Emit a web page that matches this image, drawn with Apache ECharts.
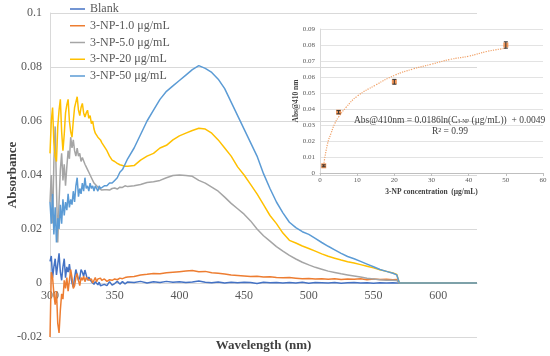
<!DOCTYPE html>
<html>
<head>
<meta charset="utf-8">
<script src="https://cdn.jsdelivr.net/npm/echarts@6/dist/echarts.min.js"></script>
<style>html,body{margin:0;padding:0;background:#fff}#c{width:550px;height:356px}</style>
</head>
<body>
<div id="c"></div>
<script>
// ---------------- data ----------------
const wavelengths = [
  300,301,302,303,304,305,306,307,308,309,310,311,312,313,314,315,316,317,318,319,
  320,321,322,323,324,325,326,327,328,329,330,331,332,333,334,335,336,337,338,339,340,
  342,344,346,348,350,352,354,356,358,360,
  365,370,375,380,385,390,395,400,405,410,415,420,425,430,435,440,445,450,455,460,
  465,470,475,480,485,490,495,500,505,510,515,520,525,530,535,540,545,550,555,560,565,
  568,570,600,630
];
const seriesNames = ['Blank','3-NP-1.0 μg/mL','3-NP-5.0 μg/mL','3-NP-20 μg/mL','3-NP-50 μg/mL'];
const blank = [
  0.008,0.010,0.002,0.006,0.009,0.003,0.007,0.011,0.004,0.001,
  0.006,0.009,0.002,0.006,0.004,0.007,0.003,0.0,-0.0015,0.002,
  0.005,0.003,0.001,0.002,0.005,0.004,0.0025,0.0048,0.003,0.001,
  0.0022,0.002,0.0005,0.001,-0.0005,0.0005,0.0,-0.0007,0.0003,-0.001,-0.0015,
  -0.0005,-0.001,0.0005,-0.0008,-0.0002,0.0006,-0.0004,0.0005,-0.0003,0.0004,
  0.0002,0.0006,0.0,0.0005,0.0002,0.0006,0.0003,0.0005,0.0002,0.0004,
  0.0007,0.0003,0.0001,0.0004,0.0,0.0003,0.0001,0.0003,0.0002,-0.0002,
  0.0003,0.0001,0.0002,0.0,0.0002,0.0,0.0003,-0.0001,0.0002,0.0001,
  0.0,0.0002,-0.0001,0.0001,0.0002,0.0,0.0001,-0.0001,0.0001,0.0,0.0001,
  0.0,0,0,0
];
const np1 = [
  -0.020,0.004,0.002,-0.004,-0.008,-0.003,-0.015,-0.0185,-0.010,-0.004,
  -0.006,0.001,-0.002,0.002,-0.003,0.001,0.005,0.002,-0.002,-0.001,
  0.002,0.0035,0.001,-0.001,0.002,0.001,0.0025,0.0005,0.002,0.0025,
  0.001,0.0005,0.0015,0.0,0.001,0.002,0.0005,0.0015,0.001,0.0018,0.001,
  0.0015,0.0006,0.0012,0.001,0.0015,0.0012,0.0018,0.0016,0.002,0.0022,
  0.0024,0.003,0.0032,0.0035,0.0034,0.0038,0.004,0.0042,0.0044,0.0046,
  0.0042,0.0043,0.0038,0.0036,0.0033,0.003,0.0028,0.0026,0.0024,0.0025,
  0.0022,0.0023,0.002,0.0019,0.002,0.0018,0.0016,0.0017,0.0015,0.0016,
  0.0014,0.0016,0.0013,0.0015,0.0014,0.0016,0.0012,0.0015,0.0013,0.0014,0.0012,
  0.0013,0,0,0
];
const np5 = [
  0.030,0.040,0.022,0.045,0.058,0.035,0.015,0.030,0.042,0.048,
  0.038,0.044,0.036,0.043,0.049,0.046,0.054,0.050,0.053,0.049,
  0.047,0.050,0.047,0.048,0.045,0.0465,0.046,0.044,0.043,0.042,
  0.041,0.040,0.039,0.0385,0.037,0.0365,0.036,0.0355,0.035,0.0345,0.0344,
  0.0345,0.0345,0.0344,0.035,0.0352,0.0348,0.0355,0.0354,0.036,0.0357,
  0.036,0.0365,0.0372,0.0375,0.038,0.039,0.0398,0.040,0.0398,0.0395,
  0.038,0.037,0.0355,0.034,0.0318,0.0295,0.0275,0.0255,0.023,0.020,
  0.0175,0.0155,0.0135,0.0118,0.0102,0.0089,0.0077,0.0067,0.0058,0.0051,
  0.0044,0.0039,0.0034,0.003,0.0026,0.0022,0.0018,0.0015,0.0012,0.001,0.001,
  0.0009,0,0,0
];
const np20 = [
  0.048,0.060,0.065,0.052,0.047,0.045,0.058,0.064,0.068,0.056,
  0.049,0.055,0.063,0.066,0.068,0.060,0.056,0.054,0.060,0.065,
  0.067,0.069,0.064,0.062,0.065,0.0665,0.063,0.0615,0.063,0.064,
  0.061,0.062,0.059,0.060,0.057,0.0555,0.056,0.054,0.0545,0.053,0.052,
  0.0505,0.049,0.047,0.0455,0.045,0.0443,0.0438,0.0435,0.0432,0.0432,
  0.0435,0.0455,0.047,0.048,0.050,0.051,0.053,0.0545,0.0555,0.0565,
  0.0573,0.057,0.0555,0.053,0.050,0.047,0.043,0.040,0.0365,0.033,
  0.029,0.025,0.022,0.0185,0.0158,0.0148,0.0137,0.0128,0.0118,0.0108,
  0.0099,0.0092,0.0085,0.0079,0.0074,0.0068,0.0062,0.0056,0.0049,0.0043,0.0037,
  0.0032,0,0,0
];
const np50 = [
  0.030,0.022,0.033,0.018,0.028,0.015,0.024,0.020,0.029,0.022,
  0.031,0.025,0.030,0.027,0.033,0.028,0.031,0.029,0.034,0.030,
  0.036,0.039,0.032,0.035,0.033,0.037,0.034,0.039,0.035,0.036,
  0.034,0.037,0.035,0.036,0.034,0.036,0.035,0.034,0.036,0.035,0.035,
  0.036,0.036,0.037,0.037,0.038,0.039,0.041,0.042,0.044,0.046,
  0.050,0.055,0.060,0.064,0.068,0.071,0.073,0.075,0.077,0.079,
  0.0805,0.0795,0.078,0.0755,0.072,0.067,0.062,0.057,0.052,0.047,
  0.0405,0.035,0.030,0.026,0.0225,0.0205,0.019,0.018,0.0165,0.015,
  0.0136,0.0123,0.011,0.0098,0.009,0.008,0.007,0.006,0.005,0.0043,0.0036,
  0.003,0,0,0
];
const yTicks = [-0.02, 0, 0.02, 0.04, 0.06, 0.08, 0.1];
const xTicks = [300, 350, 400, 450, 500, 550, 600];

// inset
const concentrations = [1, 5, 20, 50];
const abs410 = [0.0045, 0.038, 0.057, 0.080];
const abs410Err = [0.0006, 0.001, 0.0015, 0.002];
const fitConc = [1, 2, 3, 4, 5, 7, 10, 15, 20, 25, 30, 35, 40, 45, 50];
const fitAbs = [0.005, 0.018, 0.025, 0.031, 0.035, 0.041, 0.048, 0.055, 0.061, 0.065, 0.068, 0.071, 0.073, 0.076, 0.078];

// ---------------- chart ----------------
const colors = ['#4472C4', '#ED7D31', '#A5A5A5', '#FFC000', '#5B9BD5'];
const serif = "'Liberation Serif', 'Times New Roman', serif";
const lab = '#595959';
const mainVals = [blank, np1, np5, np20, np50];

const chart = echarts.init(document.getElementById('c'), null, {renderer: 'canvas'});
const fmt = v => String(parseFloat(Number(v).toFixed(4)));

const series = mainVals.map((vals, k) => ({
  name: seriesNames[k], type: 'line', xAxisIndex: 0, yAxisIndex: 0,
  showSymbol: false, symbol: 'none',
  lineStyle: {width: 1.5, color: colors[k]}, itemStyle: {color: colors[k]},
  data: wavelengths.map((w, i) => [w, vals[i]]), z: 2 + k
}));

series.push({
  type: 'line', xAxisIndex: 1, yAxisIndex: 1, smooth: true, symbol: 'none', showSymbol: false,
  lineStyle: {width: 1.2, type: 'dotted', color: '#F0A066'},
  data: fitConc.map((c, i) => [c, fitAbs[i]]), z: 10
});
series.push({
  type: 'scatter', xAxisIndex: 1, yAxisIndex: 1, symbol: 'rect', symbolSize: 5,
  itemStyle: {color: '#ED7D31'},
  data: concentrations.map((c, i) => [c, abs410[i]]), z: 11
});
series.push({
  type: 'custom', xAxisIndex: 1, yAxisIndex: 1, z: 12,
  data: concentrations.map((c, i) => [c, abs410[i], abs410Err[i]]),
  encode: {x: 0, y: 1},
  renderItem: function (params, api) {
    const x = api.value(0), y = api.value(1), e = api.value(2);
    const t = api.coord([x, y + e]), b = api.coord([x, y - e]);
    const w = 2, st = {stroke: '#333', lineWidth: 1};
    return {type: 'group', children: [
      {type: 'line', shape: {x1: t[0], y1: t[1], x2: b[0], y2: b[1]}, style: st},
      {type: 'line', shape: {x1: t[0] - w, y1: t[1], x2: t[0] + w, y2: t[1]}, style: st},
      {type: 'line', shape: {x1: b[0] - w, y1: b[1], x2: b[0] + w, y2: b[1]}, style: st}
    ]};
  }
});

chart.setOption({
  animation: false,
  backgroundColor: '#fff',
  textStyle: {fontFamily: serif},
  legend: {
    data: seriesNames, orient: 'vertical', left: 70, top: 3, padding: 0,
    icon: 'rect', itemWidth: 15, itemHeight: 1.5, itemGap: 4.75,
    textStyle: {fontFamily: serif, fontSize: 12, lineHeight: 12, color: lab}
  },
  grid: [
    {left: 50, right: 73, top: 13, bottom: 19, outerBoundsMode: 'none', containLabel: false},
    {left: 320, right: 7, top: 29, bottom: 183, outerBoundsMode: 'none', containLabel: false}
  ],
  xAxis: [
    {
      type: 'value', gridIndex: 0, min: 300, max: 630, interval: 50,
      position: 'bottom', offset: -54,
      axisLine: {show: true, onZero: false, lineStyle: {color: '#D9D9D9'}},
      axisTick: {show: false}, splitLine: {show: false},
      axisLabel: {fontFamily: serif, fontSize: 12, color: lab, margin: 7, showMaxLabel: false,
        formatter: v => (xTicks.indexOf(v) >= 0 ? String(v) : '')},
      name: 'Wavelength (nm)', nameLocation: 'middle', nameGap: 56, nameMoveOverlap: false,
      nameTextStyle: {fontFamily: serif, fontSize: 13, fontWeight: 'bold', color: '#404040'}
    },
    {
      type: 'value', gridIndex: 1, min: 0, max: 60, interval: 10,
      axisLine: {show: true, onZero: false, lineStyle: {color: '#BFBFBF'}},
      axisTick: {show: true, length: 3, lineStyle: {color: '#BFBFBF'}},
      splitLine: {show: false},
      axisLabel: {fontFamily: serif, fontSize: 7, color: lab, margin: 4},
      name: '3-NP concentration  (μg/mL)', nameLocation: 'middle', nameGap: 15, nameMoveOverlap: false,
      nameTextStyle: {fontFamily: serif, fontSize: 7.5, fontWeight: 'bold', color: '#404040'}
    }
  ],
  yAxis: [
    {
      type: 'value', gridIndex: 0, min: -0.02, max: 0.1, interval: 0.02,
      axisLine: {show: true, lineStyle: {color: '#D9D9D9'}},
      axisTick: {show: false},
      splitLine: {show: true, lineStyle: {color: '#D9D9D9', width: 1}},
      axisLabel: {fontFamily: serif, fontSize: 12, color: lab, margin: 8, formatter: v => fmt(v)},
      name: 'Absorbance', nameLocation: 'middle', nameGap: 31, nameMoveOverlap: false,
      nameTextStyle: {fontFamily: serif, fontSize: 13, fontWeight: 'bold', color: '#404040'}
    },
    {
      type: 'value', gridIndex: 1, min: 0, max: 0.09, interval: 0.01,
      axisLine: {show: true, lineStyle: {color: '#D9D9D9'}},
      axisTick: {show: false},
      splitLine: {show: true, lineStyle: {color: '#E3E3E3', width: 1}},
      axisLabel: {fontFamily: serif, fontSize: 7, color: lab, margin: 5, formatter: v => fmt(v)},
      name: 'Abs@410 nm', nameLocation: 'middle', nameGap: 20, nameMoveOverlap: false,
      nameTextStyle: {fontFamily: serif, fontSize: 7.5, fontWeight: 'bold', color: '#404040'}
    }
  ],
  graphic: [
    {
      type: 'text', left: 354, top: 115, z: 20,
      style: {
        text: 'Abs@410nm = 0.0186ln(C{s|3-NP} (μg/mL))  + 0.0049',
        font: "9.5px 'Liberation Serif', serif", fill: '#404040',
        rich: {s: {fontSize: 5.5, fontFamily: serif, fill: '#404040', padding: [4, 0, 0, 0]}}
      }
    },
    {
      type: 'text', left: 432, top: 126, z: 20,
      style: {text: 'R² = 0.99', font: "9.5px 'Liberation Serif', serif", fill: '#404040'}
    }
  ],
  series: series
});
</script>
</body>
</html>
